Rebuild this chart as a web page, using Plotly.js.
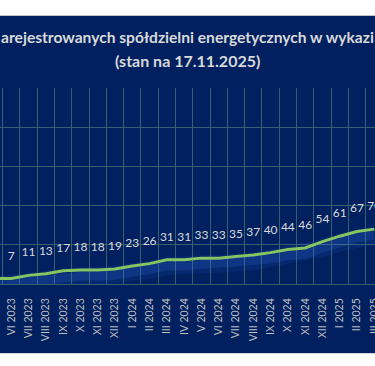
<!DOCTYPE html>
<html>
<head>
<meta charset="utf-8">
<script src="https://cdn.plot.ly/plotly-3.0.1.min.js"></script>
<style>
  html, body { margin: 0; padding: 0; background: #ffffff; overflow: hidden; width: 375px; height: 366px; }
  #topline { position: absolute; left: 0; top: 15px; width: 375px; height: 1px; background: #c4c4c4; }
  #chart { position: absolute; left: 0; top: 16px; width: 375px; height: 337px; }
  #botline { position: absolute; left: 0; top: 353px; width: 375px; height: 1px; background: #d4d4d4; }
</style>
</head>
<body>
<div id="topline"></div>
<div id="chart"></div>
<div id="botline"></div>
<script>
// Month labels (Roman numeral month + year)
const months = ["V 2023","VI 2023","VII 2023","VIII 2023","IX 2023","X 2023","XI 2023","XII 2023",
                "I 2024","II 2024","III 2024","IV 2024","V 2024","VI 2024","VII 2024","VIII 2024",
                "IX 2024","X 2024","XI 2024","XII 2024","I 2025","II 2025","III 2025"];
// Number of registered energy cooperatives
const counts = [7,7,11,13,17,18,18,19,23,26,31,31,33,33,35,37,40,44,46,54,61,67,70];

const titleLine1 = "arejestrowanych spółdzielni energetycznych w wykazi";
const titleLine2 = "(stan na 17.11.2025)";

const navy = "#002060";
const grid = "#36606c";
const lineGreen = "#92d050";
const labelGrey = "#d9d9d9";
const tickGrey = "#bfbfbf";
const fontFam = "Lato, 'Open Sans', sans-serif";

const glowWide = {
  x: months, y: counts, type: "scatter", mode: "lines", yaxis: "y2",
  line: { color: "rgba(50,110,230,0.11)", width: 18 }, hoverinfo: "skip", showlegend: false
};
const glowNarrow = {
  x: months, y: counts, type: "scatter", mode: "lines", yaxis: "y2",
  line: { color: "rgba(60,120,235,0.18)", width: 9 }, hoverinfo: "skip", showlegend: false
};
const mainLine = {
  x: months, y: counts, type: "scatter", mode: "lines",
  line: { color: lineGreen, width: 3 }, hoverinfo: "skip", showlegend: false
};
// Data labels (the first month's label lies outside the visible window)
const labels = {
  x: months.slice(1), y: counts.slice(1), type: "scatter", mode: "markers+text",
  marker: { size: 24, color: "rgba(0,0,0,0)" },
  text: counts.slice(1).map(String), textposition: "top center",
  textfont: { family: fontFam, size: 12, color: labelGrey },
  hoverinfo: "skip", showlegend: false
};

const layout = {
  width: 375, height: 337,
  paper_bgcolor: navy, plot_bgcolor: navy,
  margin: { l: 0, r: 0, t: 72, b: 69 },
  title: {
    text: titleLine1,
    font: { family: fontFam, size: 15.6, color: labelGrey, weight: "bold" },
    x: 0.5, xanchor: "center", xref: "paper",
    y: 1 - 22 / 337, yref: "container", yanchor: "middle"
  },
  annotations: [{
    text: titleLine2, showarrow: false, xref: "paper", yref: "paper",
    x: 0.5, xanchor: "center", y: (268 - 44) / 196, yanchor: "middle",
    font: { family: fontFam, size: 16, color: labelGrey, weight: "bold" }
  }],
  xaxis: {
    type: "category", range: [0.3465, 22.04],
    tickson: "boundaries", showgrid: true, gridcolor: grid, gridwidth: 1,
    ticks: "", tickangle: -90, ticklabelstandoff: 9,
    tickfont: { family: fontFam, size: 10.5, color: tickGrey },
    showline: true, linecolor: grid, linewidth: 1,
    fixedrange: true
  },
  yaxis: {
    range: [0, 250], dtick: 50, showgrid: true, gridcolor: grid, gridwidth: 1,
    showticklabels: false, zeroline: false, fixedrange: true
  },
  yaxis2: {
    overlaying: "y", range: [8, 258], visible: false, fixedrange: true
  }
};

Plotly.newPlot("chart", [glowWide, glowNarrow, mainLine, labels], layout, { staticPlot: true, displayModeBar: false });
</script>
</body>
</html>
